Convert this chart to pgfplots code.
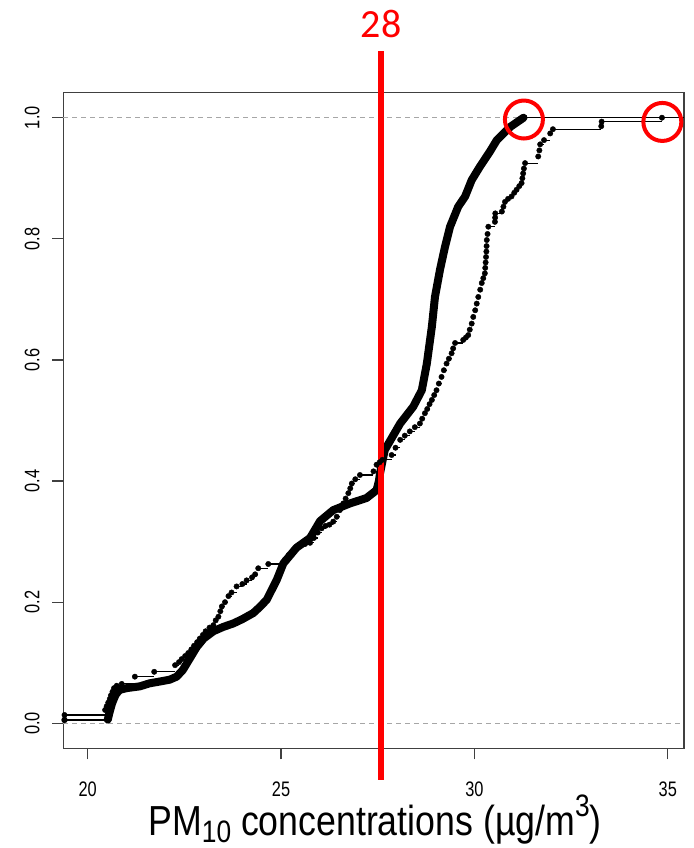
\documentclass[border=0pt]{standalone}
\usepackage{fontspec}
\usepackage{pgfplots}
\usepackage{pgfplotstable}
\pgfplotsset{compat=1.18}
\setmainfont{Liberation Sans}
\newfontfamily\tickfont{Liberation Sans}[FakeStretch=0.78]
\newfontfamily\titlefont{Liberation Sans}[FakeStretch=0.85]
\newfontfamily\redfont{Carlito}
\definecolor{rred}{RGB}{255,0,0}

\pgfplotstableread{
x y
20.52 0.006
20.56 0.017
20.63 0.033
20.72 0.047
20.82 0.055
21.00 0.058
21.35 0.061
21.60 0.066
21.87 0.069
22.12 0.072
22.30 0.077
22.46 0.088
22.64 0.107
22.82 0.126
23.00 0.140
23.25 0.152
23.50 0.159
23.77 0.165
24.00 0.172
24.28 0.182
24.45 0.192
24.63 0.204
24.89 0.237
25.06 0.264
25.40 0.290
25.75 0.306
26.01 0.334
26.35 0.352
26.78 0.363
27.21 0.372
27.47 0.385
27.53 0.400
27.56 0.413
27.68 0.451
28.08 0.495
28.42 0.523
28.64 0.550
28.77 0.594
28.90 0.655
28.98 0.704
29.11 0.749
29.24 0.787
29.37 0.820
29.58 0.853
29.76 0.870
29.93 0.897
30.14 0.919
30.40 0.944
30.58 0.963
30.93 0.985
31.27 1.000
}\tabA

\pgfplotstableread{
x y
19.40 0.0137
20.45 0.022
20.49 0.028
20.53 0.034
20.57 0.040
20.60 0.046
20.64 0.052
20.68 0.058
20.75 0.062
20.88 0.065
21.22 0.077
21.72 0.085
22.26 0.096
22.36 0.101
22.43 0.106
22.52 0.111
22.60 0.116
22.68 0.122
22.75 0.128
22.83 0.134
22.90 0.140
22.98 0.146
23.05 0.152
23.15 0.158
23.25 0.162
23.31 0.170
23.38 0.176
23.43 0.185
23.47 0.193
23.55 0.200
23.64 0.210
23.72 0.216
23.85 0.226
24.00 0.230
24.11 0.236
24.25 0.241
24.33 0.246
24.41 0.256
24.67 0.263
25.10 0.270
25.20 0.278
25.30 0.284
25.40 0.289
25.50 0.293
25.62 0.296
25.75 0.298
25.85 0.306
25.95 0.315
26.05 0.322
26.15 0.326
26.25 0.328
26.35 0.333
26.44 0.341
26.52 0.352
26.61 0.363
26.67 0.371
26.74 0.380
26.79 0.388
26.83 0.396
26.92 0.403
27.04 0.410
27.39 0.416
27.47 0.427
27.55 0.431
27.62 0.435
27.86 0.443
27.96 0.455
28.08 0.468
28.20 0.475
28.33 0.482
28.46 0.489
28.59 0.495
28.65 0.503
28.72 0.512
28.78 0.519
28.84 0.527
28.90 0.534
28.96 0.542
29.02 0.550
29.08 0.561
29.15 0.572
29.21 0.583
29.28 0.594
29.34 0.602
29.41 0.611
29.45 0.619
29.50 0.628
29.71 0.633
29.78 0.637
29.84 0.641
29.88 0.650
29.93 0.660
29.97 0.671
30.02 0.682
30.06 0.693
30.10 0.704
30.15 0.716
30.19 0.727
30.23 0.735
30.27 0.743
30.28 0.752
30.29 0.761
30.30 0.770
30.31 0.779
30.315 0.788
30.32 0.798
30.34 0.808
30.36 0.820
30.53 0.828
30.535 0.835
30.54 0.842
30.71 0.845
30.75 0.853
30.79 0.861
30.87 0.866
30.96 0.870
31.03 0.876
31.09 0.881
31.16 0.887
31.22 0.892
31.24 0.900
31.26 0.908
31.28 0.916
31.31 0.925
31.65 0.936
31.68 0.946
31.70 0.956
31.80 0.963
31.96 0.974
32.03 0.981
33.28 0.986
33.29 0.9935
34.85 1.000
}\tabB

\begin{document}
\begin{tikzpicture}[x=1pt,y=1pt]
\useasboundingbox (0,0) rectangle (693,848);
\begin{axis}[
  at={(63.3pt,99.7pt)}, anchor=south west,
  width=620.7pt, height=655.6pt, scale only axis,
  xmin=19.369, xmax=35.42, ymin=-0.0413, ymax=1.0413,
  clip=false,
  axis line style={black!75, line width=1.3pt},
  xtick={20,25,30,35}, ytick={0,0.2,0.4,0.6,0.8,1},
  xtick pos=bottom, ytick pos=left,
  tick align=outside, major tick length=11pt,
  tick style={black!75, line width=1.3pt},
  /pgf/number format/assume math mode=true,
  ticklabel style={font=\tickfont\fontsize{21}{25}\selectfont, inner sep=0pt},
  xticklabel style={anchor=north, yshift=-22pt},
  yticklabel style={rotate=90, anchor=south, yshift=12.5pt,
    /pgf/number format/fixed, /pgf/number format/fixed zerofill,
    /pgf/number format/precision=1},
]
% reference lines
\addplot[black!35, line width=1.1pt, dash pattern=on 5pt off 4pt] coordinates {(19.369,0) (35.42,0)};
\addplot[black!35, line width=1.1pt, dash pattern=on 5pt off 4pt] coordinates {(19.369,1) (35.42,1)};
% curve A
\addplot[black, line width=1.1pt, mark=*, mark size=2.6pt, mark indices={1}] coordinates {(19.40,0.0055) (20.52,0.0055)};
\addplot[black, line width=8pt, line join=round, line cap=round, no marks] table {\tabA};
\addplot[black, line width=1.1pt, no marks] coordinates {(31.27,1) (35.42,1)};
% curve B
\addplot[black, line width=1.1pt, jump mark left, no marks] table {\tabB};
\addplot[black, only marks, mark=*, mark size=2.7pt] table {\tabB};
\addplot[black, line width=1.1pt, no marks] coordinates {(34.85,1) (35.42,1)};
% red marker line and circles
\addplot[rred, line width=5.7pt, no marks] coordinates {(27.585,-0.0936) (27.585,1.1106)};
\addplot[rred, only marks, mark=o, mark size=19pt, mark options={line width=4pt}] coordinates {(31.28,0.997) (34.86,0.993)};
\node[anchor=base, text=rred, inner sep=0pt] at (axis cs:27.585,1.1106) [yshift=13.4pt] {\redfont\fontsize{40}{48}\selectfont 28};
\end{axis}
\node[anchor=base, inner sep=0pt] at (375,12.5) {\titlefont\fontsize{42}{50}\selectfont PM\raisebox{-7pt}{\fontsize{31}{36}\selectfont 10} concentrations (µg/m\raisebox{19pt}{\fontsize{31}{36}\selectfont 3})};
\end{tikzpicture}
\end{document}
